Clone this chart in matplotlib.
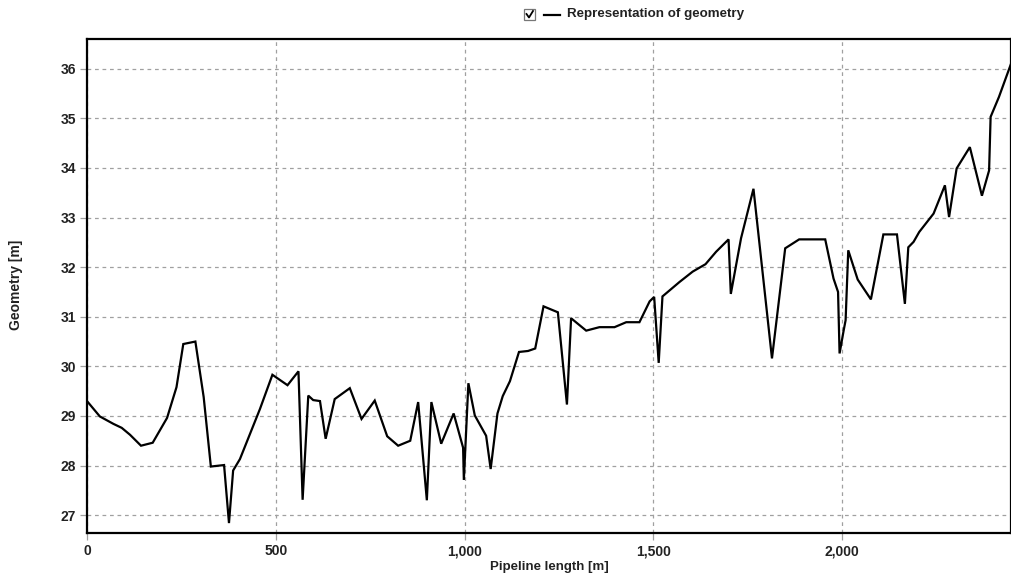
import matplotlib
matplotlib.use("Agg")
import matplotlib.pyplot as plt
from matplotlib.patches import Rectangle
from matplotlib.lines import Line2D
from matplotlib.ticker import FuncFormatter, MultipleLocator

plt.rcParams['font.family'] = ['Liberation Sans', 'DejaVu Sans']

# Pipeline chainage [m] and elevation of the pipe geometry [m]
length_m = [0, 34, 70, 92, 114, 143, 174, 212, 237, 255, 287, 309, 328, 363, 376,
            387, 405, 458, 491, 531, 560, 571, 586, 599, 617, 632, 656, 696, 727,
            762, 795, 824, 856, 877, 900, 912, 938, 971, 996, 998, 1010, 1027,
            1057, 1069, 1087, 1101, 1120, 1144, 1168, 1187, 1209, 1247, 1271,
            1282, 1322, 1357, 1397, 1428, 1463, 1490, 1502, 1514, 1524, 1569,
            1604, 1638, 1666, 1699, 1705, 1732, 1765, 1814, 1849, 1886, 1955,
            1977, 1989, 1993, 2004, 2009, 2016, 2041, 2076, 2109, 2145, 2166,
            2175, 2189, 2204, 2242, 2272, 2283, 2303, 2338, 2370, 2389, 2393,
            2415, 2447]
geometry_m = [29.30, 28.99, 28.84, 28.76, 28.62, 28.40, 28.46, 28.96, 29.58, 30.45,
              30.50, 29.38, 27.98, 28.01, 26.84, 27.90, 28.13, 29.14, 29.83, 29.62,
              29.90, 27.31, 29.41, 29.32, 29.30, 28.54, 29.34, 29.56, 28.94, 29.31,
              28.59, 28.40, 28.50, 29.28, 27.30, 29.28, 28.44, 29.05, 28.36, 27.71,
              29.66, 29.01, 28.60, 27.93, 29.05, 29.40, 29.70, 30.29, 30.31, 30.36,
              31.21, 31.09, 29.23, 30.97, 30.72, 30.79, 30.79, 30.89, 30.89, 31.31,
              31.40, 30.07, 31.41, 31.70, 31.91, 32.06, 32.31, 32.56, 31.46, 32.58,
              33.58, 30.16, 32.38, 32.56, 32.56, 31.77, 31.50, 30.26, 30.73, 30.93,
              32.34, 31.75, 31.35, 32.66, 32.66, 31.26, 32.40, 32.51, 32.71, 33.08,
              33.65, 33.01, 33.99, 34.42, 33.44, 33.95, 35.03, 35.43, 36.10]

series_label = "Representation of geometry"
x_label = "Pipeline length [m]"
y_label = "Geometry [m]"

W, H = 1012, 578
fig = plt.figure(figsize=(W / 100, H / 100), dpi=100)
ax = fig.add_axes([87 / W, 1 - 533 / H, (1011 - 87) / W, (533 - 39) / H])

ax.plot(length_m, geometry_m, color='black', lw=1.6, solid_joinstyle='miter')

ax.set_xlim(0, 2447)
ax.set_ylim(26.64, 36.6)
ax.xaxis.set_major_locator(MultipleLocator(500))
ax.yaxis.set_major_locator(MultipleLocator(1))
ax.xaxis.set_major_formatter(FuncFormatter(lambda v, p: f"{int(v):,}"))

ax.grid(True, color='#a0a0a0', linestyle=(0, (3, 3)), linewidth=0.9)
for s in ax.spines.values():
    s.set_linewidth(1.6)
    s.set_color('black')

ax.tick_params(axis='both', length=5, width=0.9, color='#a0a0a0',
               labelsize=10, labelcolor='#222222', pad=3)
for lab in ax.get_xticklabels() + ax.get_yticklabels():
    lab.set_fontweight('bold')

ax.set_xlabel(x_label, fontsize=9.5, fontweight='bold', color='#222222', labelpad=2)
fig.text(16 / W, 1 - 285 / H, y_label, rotation=90, fontsize=10, fontweight='bold',
         color='#222222', ha='center', va='center')

# legend: checkbox, line sample and caption
box = Rectangle((524 / W, 1 - 20 / H), 11 / W, 11 / H, transform=fig.transFigure,
                facecolor='white', edgecolor='#777777', linewidth=0.9)
fig.patches.append(box)
fig.lines.append(Line2D([526.5 / W, 529 / W, 533 / W],
                        [1 - 14 / H, 1 - 17.5 / H, 1 - 11 / H],
                        transform=fig.transFigure, color='black', lw=1.3))
fig.lines.append(Line2D([544 / W, 560 / W], [1 - 14.5 / H, 1 - 14.5 / H],
                        transform=fig.transFigure, color='black', lw=1.6))
fig.text(567 / W, 1 - 14.5 / H, series_label, fontsize=9.6, fontweight='bold',
         color='#222222', ha='left', va='center')

fig.savefig("out.png", dpi=100)
